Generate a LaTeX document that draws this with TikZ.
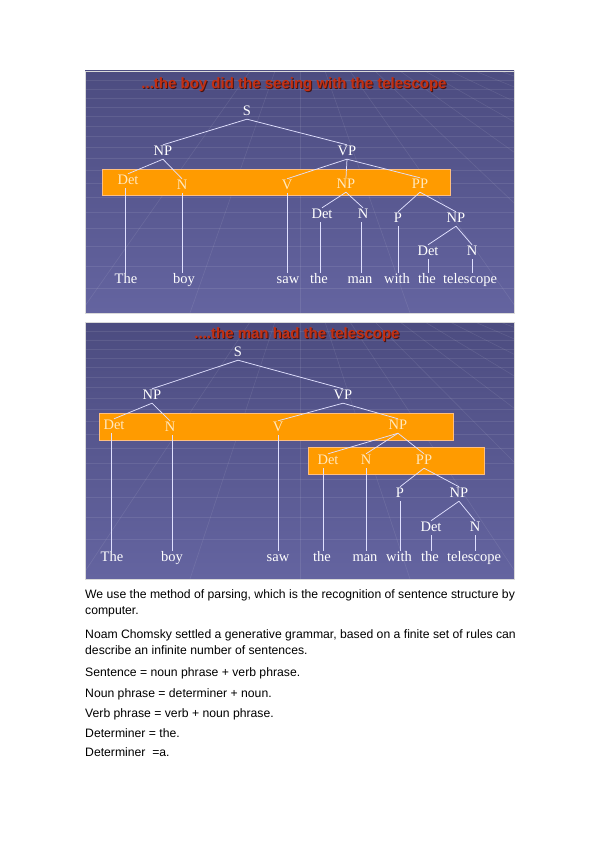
\documentclass[tikz,border=0pt]{standalone}
\usepackage{fontspec}
\setmainfont{Liberation Serif}
\newfontfamily\arialf{Liberation Sans}
\definecolor{bgtop}{RGB}{76,76,128}
\definecolor{bgbot}{RGB}{100,100,160}
\definecolor{barorange}{RGB}{255,155,0}
\definecolor{titlered}{RGB}{196,48,18}
\definecolor{titleshadow}{RGB}{70,20,20}
\definecolor{barword}{RGB}{255,232,190}
\begin{document}
\begin{tikzpicture}[x=1pt,y=-1pt,
  tn/.style={font=\fontsize{14.5}{14.5}\selectfont, text=white, inner sep=1pt, text height=9.5pt, text depth=2.5pt},
  bn/.style={tn, text=barword},
  tl/.style={draw=white!88!blue, line width=0.75pt},
  barbox/.style={fill=barorange, draw=orange!50!white, line width=0.4pt},
  ttl/.style={font=\arialf\bfseries\fontsize{15}{15}\selectfont, text=titlered, inner sep=0pt},
  tsh/.style={font=\arialf\bfseries\fontsize{15}{15}\selectfont, text=titleshadow, inner sep=0pt},
  body/.style={font=\arialf\fontsize{12.2}{14}\selectfont, anchor=base west, inner sep=0pt},
  grid/.style={draw=white, opacity=0.09, line width=0.6pt}
]
\useasboundingbox (0,0) rectangle (599,848);
\fill[white] (0,0) rectangle (599,848);

% ---------------- Panel 1 ----------------
\shade[top color=bgtop, bottom color=bgbot] (85,71) rectangle (514,313);
\begin{scope}
\clip (85,71) rectangle (514,313);
\foreach \yy in {80,89,98,107,116,126,136,147,158,170,183,197,212,228,246,266,288} {\draw[grid] (85,\yy) -- (514,\yy);}
\foreach \xx in {-200,-100,0,100,200,300,400,500,600,700,800} {\draw[grid] (300+0.25*\xx-0.0,71) -- (300+1.1*\xx,313);}
\end{scope}
\draw[white!70!gray, line width=0.4pt] (85,71) rectangle (514,313);

\node[tsh] (T1s) at (295,86) {...the boy did the seeing with the telescope};
\node[ttl] (T1) at (294,85) {...the boy did the seeing with the telescope};

\node[tn] (S1) at (247,112) {S};
\node[tn] (NPa) at (163,152) {NP};
\node[tn] (VPa) at (347,152) {VP};
\fill[barbox] (102,169) rectangle (450,195);
\node[bn] (Det1) at (128,181) {Det};
\node[bn] (N1) at (182,186) {N};
\node[bn] (V1) at (287,186) {V};
\node[bn] (NPb) at (346,185) {NP};
\node[bn] (PPa) at (420,185) {PP};
\node[tn] (Det2) at (322,215) {Det};
\node[tn] (N2) at (363,215) {N};
\node[tn] (P1) at (398,219) {P};
\node[tn] (NPc) at (456,219) {NP};
\node[tn] (Det3) at (428,252) {Det};
\node[tn] (N3) at (472,252) {N};
\node[tn] (wa1) at (126,280) {The};
\node[tn] (wa2) at (184,280) {boy};
\node[tn] (wa3) at (288,280) {saw};
\node[tn] (wa4) at (319,280) {the};
\node[tn] (wa5) at (360,280) {man};
\node[tn] (wa6) at (397,280) {with};
\node[tn] (wa7) at (427,280) {the};
\node[tn] (wa8) at (470,280) {telescope};

\coordinate (xa1) at (125,0);
\coordinate (xa4) at (320,0);
\coordinate (xa5) at (361,0);

\draw[tl] (S1.south) -- (NPa.north);
\draw[tl] (S1.south) -- (VPa.north);
\draw[tl] (NPa.south) -- (Det1.north);
\draw[tl] (NPa.south) -- (N1.north);
\draw[tl] (VPa.south) -- (V1.north);
\draw[tl] (VPa.south) -- (NPb.north);
\draw[tl] (VPa.south) -- (PPa.north);
\draw[tl] (NPb.south) -- (Det2.north);
\draw[tl] (NPb.south) -- (N2.north);
\draw[tl] (PPa.south) -- (P1.north);
\draw[tl] (PPa.south) -- (NPc.north);
\draw[tl] (NPc.south) -- (Det3.north);
\draw[tl] (NPc.south) -- (N3.north);
\draw[tl] (Det1.south -| xa1) -- (wa1.north -| xa1);
\draw[tl] (N1.south) -- (N1.south |- wa2.north);
\draw[tl] (V1.south) -- (V1.south |- wa3.north);
\draw[tl] (Det2.south -| xa4) -- (wa4.north -| xa4);
\draw[tl] (N2.south -| xa5) -- (wa5.north -| xa5);
\draw[tl] (P1.south) -- (P1.south |- wa6.north);
\draw[tl] (Det3.south) -- (Det3.south |- wa7.north);
\draw[tl] (N3.south) -- (N3.south |- wa8.north);

% ---------------- Panel 2 ----------------
\shade[top color=bgtop, bottom color=bgbot] (85,322) rectangle (514,579);
\begin{scope}
\clip (85,322) rectangle (514,579);
\foreach \yy in {331,340,349,358,367,377,387,398,409,421,434,448,463,479,497,517,539} {\draw[grid] (85,\yy) -- (514,\yy);}
\foreach \xx in {-200,-100,0,100,200,300,400,500,600,700,800} {\draw[grid] (300+0.25*\xx,322) -- (300+1.1*\xx,579);}
\end{scope}
\draw[white!70!gray, line width=0.4pt] (85,322) rectangle (514,579);

\node[tsh] (T2s) at (298,336) {....the man had the telescope};
\node[ttl] (T2) at (297,335) {....the man had the telescope};

\node[tn] (S2) at (238,353) {S};
\node[tn] (NPd) at (152,396) {NP};
\node[tn] (VPb) at (343,396) {VP};
\fill[barbox] (99,413) rectangle (453,440);
\node[bn] (Det4) at (114,426) {Det};
\node[bn] (N4) at (170,428) {N};
\node[bn] (V2) at (278,428) {V};
\node[bn] (NPe) at (398,426) {NP};
\fill[barbox] (308,447) rectangle (484,474);
\node[bn] (Det5) at (328,461) {Det};
\node[bn] (N5) at (366,461) {N};
\node[bn] (PPb) at (424,461) {PP};
\node[tn] (P2) at (400,494) {P};
\node[tn] (NPf) at (459,494) {NP};
\node[tn] (Det6) at (431,528) {Det};
\node[tn] (N6) at (475,528) {N};
\node[tn] (wb1) at (112,558) {The};
\node[tn] (wb2) at (172,558) {boy};
\node[tn] (wb3) at (278,558) {saw};
\node[tn] (wb4) at (322,558) {the};
\node[tn] (wb5) at (365,558) {man};
\node[tn] (wb6) at (399,558) {with};
\node[tn] (wb7) at (430,558) {the};
\node[tn] (wb8) at (474,558) {telescope};

\coordinate (xb1) at (111,0);
\coordinate (xb4) at (323,0);
\coordinate (xb5) at (366,0);

\draw[tl] (S2.south) -- (NPd.north);
\draw[tl] (S2.south) -- (VPb.north);
\draw[tl] (NPd.south) -- (Det4.north);
\draw[tl] (NPd.south) -- (N4.north);
\draw[tl] (VPb.south) -- (V2.north);
\draw[tl] (VPb.south) -- (NPe.north);
\draw[tl] (NPe.south) -- (Det5.north);
\draw[tl] (NPe.south) -- (N5.north);
\draw[tl] (NPe.south) -- (PPb.north);
\draw[tl] (PPb.south) -- (P2.north);
\draw[tl] (PPb.south) -- (NPf.north);
\draw[tl] (NPf.south) -- (Det6.north);
\draw[tl] (NPf.south) -- (N6.north);
\draw[tl] (wb1.north -| xb1) -- (Det4.south -| xb1);
\draw[tl] (wb2.north) -- (wb2.north |- N4.south);
\draw[tl] (wb3.north) -- (wb3.north |- V2.south);
\draw[tl] (wb4.north -| xb4) -- (Det5.south -| xb4);
\draw[tl] (wb5.north -| xb5) -- (N5.south -| xb5);
\draw[tl] (P2.south) -- (P2.south |- wb6.north);
\draw[tl] (Det6.south) -- (Det6.south |- wb7.north);
\draw[tl] (N6.south) -- (N6.south |- wb8.north);

% ---------------- Text ----------------
\node[body] (L1) at (85,598.5) {We use the method of parsing, which is the recognition of sentence structure by};
\node[body] (L2) at (85,614) {computer.};
\node[body] (L3) at (85,638) {Noam Chomsky settled a generative grammar, based on a finite set of rules can};
\node[body] (L4) at (85,654) {describe an infinite number of sentences.};
\node[body] (L5) at (85,676) {Sentence = noun phrase + verb phrase.};
\node[body] (L6) at (85,697) {Noun phrase = determiner + noun.};
\node[body] (L7) at (85,717) {Verb phrase = verb + noun phrase.};
\node[body] (L8) at (85,737) {Determiner = the.};
\node[body] (L9) at (85,756) {Determiner\ \ =a.};
\end{tikzpicture}
\end{document}
